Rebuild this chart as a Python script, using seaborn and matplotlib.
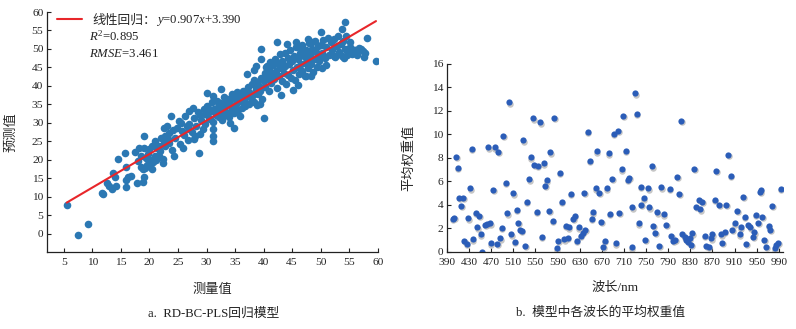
import numpy as np
import pandas as pd
import matplotlib
matplotlib.use("Agg")
import matplotlib.pyplot as plt
import matplotlib.transforms as mtransforms
import seaborn as sns

# ---- panel a: measured vs. predicted ----
measured = [
    5.5, 7.5, 9.2, 11.7, 11.8, 12.6, 13.0, 13.4, 14.1, 13.7,
    14.0, 14.5, 15.9, 15.9, 15.9, 16.3, 16.7, 17.9, 18.8, 19.1,
    18.8, 19.2, 19.8, 19.9, 20.4, 19.5, 20.2, 22.3, 22.3,
    15.8, 17.5, 18.2, 18.6, 19.1, 19.1, 19.8, 20.4, 21.0, 21.3,
    21.9, 22.5, 23.3, 22.7, 21.0, 21.6, 22.5, 23.0, 23.8, 24.2,
    23.5, 24.3, 25.9, 25.1, 26.6, 25.7, 26.9, 27.6, 27.8, 28.6,
    26.9, 28.0, 28.9, 29.5, 30.1, 30.4, 29.8, 31.2, 31.2, 31.2,
    30.1, 31.2, 32.6, 32.4, 31.8, 33.0, 33.6, 34.2, 34.5, 34.8,
    34.2, 35.9, 35.3, 36.5, 37.1, 37.7, 37.1, 38.3, 38.9, 39.4,
    40.0, 39.6, 39.6, 40.6, 38.7, 38.3, 42.4, 44.1, 45.6, 46.5,
    47.7, 48.5, 50.1, 43.0, 45.1, 46.1, 47.4, 48.3, 54.3, 53.7,
    58.2, 59.7, 57.6, 55.1, 56.8, 56.0, 50.9, 50.3, 52.3, 54.1,
    54.7,
    30.0, 30.3, 30.6, 30.8, 31.0, 31.2, 31.4, 31.6, 31.9, 32.0,
    32.2, 32.4, 32.6, 32.8, 33.0, 33.1, 33.3, 33.5, 33.7, 33.9,
    34.0, 34.2, 34.4, 34.6, 34.8, 35.0, 35.2, 35.4, 35.6, 35.8,
    36.0, 36.2, 36.4, 36.6, 36.8, 37.0, 37.2, 37.4, 37.6, 37.8,
    38.0, 38.2, 38.4, 38.6, 38.8, 39.0, 39.2, 39.4, 39.6, 39.8,
    40.0, 40.2, 40.3, 40.5, 40.7, 40.9, 41.0, 41.2, 41.3, 41.5,
    41.7, 41.9, 42.0, 42.2, 42.3, 42.5, 42.7, 42.8, 43.0, 43.2,
    43.3, 43.5, 43.7, 43.8, 44.0, 44.2, 44.3, 44.5, 44.7, 44.8,
    45.0, 45.2, 45.3, 45.5, 45.7, 45.8, 46.0, 46.2, 46.3, 46.5,
    46.7, 46.8, 47.0, 47.2, 47.3, 47.5, 47.7, 47.8, 48.0, 48.2,
    48.3, 48.5, 48.7, 48.8, 49.0, 49.2, 49.3, 49.5, 49.7, 49.8,
    50.0, 50.3, 50.5, 50.8, 51.0, 51.3, 51.5, 51.8, 52.0, 52.3,
    52.5, 52.8, 53.0, 53.3, 53.5, 53.8, 54.0, 54.3, 54.5, 54.8,
    55.2, 55.5, 55.8, 56.3, 56.5, 57.0, 57.4, 57.8,
    22.0, 22.8, 23.4, 23.9, 24.5, 24.8, 25.3, 25.6, 26.0, 26.3,
    26.7, 27.0, 27.4, 27.8, 28.1, 28.5, 28.8, 29.1, 29.4, 29.7,
    18.0, 18.6, 19.4, 20.0, 20.6, 21.2, 21.6,
]
predicted = [
    7.8, -0.5, 2.5, 11.1, 10.7, 13.7, 12.8, 12.0, 12.8, 16.5,
    15.4, 20.1, 17.9, 14.6, 12.5, 15.3, 15.7, 13.8, 14.0, 15.2,
    17.4, 17.7, 18.3, 19.2, 17.6, 18.6, 19.9, 19.0, 20.1,
    21.9, 22.1, 23.1, 21.0, 23.3, 26.4, 21.5, 23.7, 25.1, 23.3,
    22.4, 24.6, 25.5, 26.4, 21.0, 21.0, 28.7, 29.1, 31.8, 28.0,
    24.6, 21.0, 23.3, 30.5, 29.1, 27.8, 33.2, 34.1, 25.5, 21.9,
    28.2, 26.4, 32.2, 33.6, 34.5, 31.4, 29.6, 28.2, 26.4, 25.1,
    38.1, 37.2, 39.2, 35.4, 32.7, 35.4, 32.7, 36.3, 34.1, 28.7,
    30.0, 31.8, 38.1, 36.3, 39.0, 37.2, 43.3, 41.7, 34.7, 35.0,
    31.2, 50.0, 47.4, 45.3, 45.3, 44.4, 52.0, 51.4, 52.0, 50.2,
    52.7, 52.0, 54.7, 37.6, 39.0, 40.3, 42.6, 42.6, 57.2, 55.3,
    52.9, 46.6, 47.8, 51.8, 50.2, 49.8, 45.7, 44.8, 48.0, 47.5,
    48.4,
    32.5, 34.0, 31.0, 33.2, 35.5, 30.2, 33.8, 32.0, 36.0, 34.4,
    31.5, 33.0, 35.0, 30.8, 37.0, 33.6, 32.2, 34.8, 36.4, 31.6,
    35.6, 33.0, 37.8, 34.2, 32.6, 36.8, 35.0, 38.4, 33.4, 37.2,
    35.8, 34.0, 38.6, 36.2, 34.6, 37.6, 39.8, 35.2, 38.2, 36.6,
    40.4, 37.4, 35.6, 39.2, 41.0, 37.8, 40.0, 38.6, 42.0, 36.4,
    41.4, 43.6, 39.6, 45.0, 42.2, 38.6, 44.2, 46.4, 40.8, 43.0,
    45.6, 41.8, 47.2, 44.0, 39.4, 46.0, 42.6, 48.6, 44.8, 41.2,
    46.8, 43.6, 49.0, 45.4, 40.6, 47.6, 43.0, 45.8, 49.6, 42.2,
    46.6, 44.2, 48.2, 41.6, 50.4, 45.0, 47.4, 43.2, 49.0, 45.8,
    51.0, 44.0, 48.0, 46.2, 42.8, 49.6, 47.0, 44.8, 51.6, 48.6,
    46.0, 50.0, 43.8, 47.4, 52.2, 49.2, 45.2, 50.8, 48.0, 46.6,
    51.2, 49.0, 52.4, 47.6, 50.6, 53.0, 48.4, 51.8, 49.6, 52.6,
    47.8, 50.8, 53.4, 49.2, 51.4, 48.2, 52.2, 50.0, 53.6, 49.0,
    50.6, 48.6, 49.6, 48.4, 49.6, 50.0, 49.4, 48.8,
    26.0, 23.8, 27.2, 22.6, 25.8, 28.6, 24.2, 30.0, 26.6, 31.8,
    25.4, 29.6, 27.6, 31.2, 29.0, 33.0, 27.0, 30.8, 28.2, 32.4,
    19.6, 18.0, 20.4, 22.8, 19.4, 20.0, 23.8,
]
fit_slope, fit_intercept = 0.907, 3.390
fit_r2, fit_rmse = 0.895, 3.461
ticks_a = list(range(5, 61, 5))
yticks_a = list(range(0, 61, 5))

# ---- panel b: mean weight per wavelength ----
wavelength = [
    406.8, 409.9, 435.0, 432.0, 464.6, 476.6, 482.6, 492.3, 496.5, 474.0,
    503.0, 528.3, 539.2, 541.6, 548.2, 554.2, 545.8, 559.0, 565.6, 568.0,
    570.5, 577.1, 584.3, 594.5, 644.4, 648.0, 658.9, 661.3, 678.7, 682.3,
    689.0, 692.0, 699.8, 708.8, 705.8, 713.0, 717.2, 719.6, 730.5, 732.9,
    740.7, 753.9, 761.1, 777.9, 793.0, 806.8, 814.0, 837.5, 877.2, 898.9,
    903.1, 957.2, 993.3,
    400.8, 403.2, 412.9, 420.1, 416.5, 429.1, 421.9, 426.1, 436.9, 442.3,
    449.0, 445.4, 451.4, 453.2, 459.2, 463.4, 468.2, 469.4, 481.4, 486.2,
    489.2, 498.9, 506.1, 510.3, 512.7, 516.3, 519.3, 522.3, 525.9, 532.0,
    534.4, 552.4, 561.4, 574.7, 581.3, 588.5, 591.5, 598.1, 602.3, 604.7,
    608.3, 610.7, 614.4, 618.6, 621.0, 624.6, 628.8, 632.4, 635.4, 638.4,
    640.2, 651.7, 653.5, 665.5, 669.1, 672.7, 675.7, 684.7, 695.6, 701.6,
    724.4, 725.6, 736.5, 740.9, 745.7, 748.7, 756.0, 762.6, 766.8, 769.8,
    774.0, 782.2, 787.0, 796.0, 799.0, 802.6, 809.8, 815.9, 820.1, 823.1,
    826.2, 829.1, 833.9, 832.0, 841.1, 845.9, 848.4, 851.9, 856.2, 859.2,
    863.4, 868.2, 870.0, 874.2, 882.0, 886.2, 888.0, 892.2, 895.2, 906.1,
    910.3, 914.5, 919.3, 921.1, 925.3, 928.3, 931.3, 934.4, 938.6, 943.4,
    945.2, 948.2, 952.4, 956.6, 960.2, 963.2, 967.4, 971.6, 974.6, 978.2,
    982.5, 985.5, 988.5,
]
mean_weight = [
    8.10, 7.16, 8.78, 5.40, 8.89, 8.89, 8.52, 9.89, 5.88, 5.26,
    12.73, 9.49, 6.16, 8.04, 7.41, 7.30, 11.36, 11.02, 7.53, 5.60,
    6.08, 8.47, 11.42, 6.73, 10.23, 7.76, 5.40, 8.55, 5.40, 8.38,
    6.19, 10.03, 10.28, 11.56, 7.02, 8.58, 6.11, 6.31, 13.49, 11.73,
    5.54, 5.40, 7.27, 5.48, 5.34, 6.39, 11.14, 7.05, 6.88, 8.24,
    6.48, 5.26, 5.34,
    2.78, 2.90, 4.60, 4.57, 3.92, 2.84, 0.94, 0.65, 1.05, 3.32,
    3.07, 2.07, 1.48, 0.00, 2.30, 2.39, 2.41, 0.71, 0.65, 1.14,
    2.05, 3.27, 1.48, 4.97, 0.85, 3.55, 2.47, 1.85, 1.76, 0.48,
    4.26, 3.41, 1.28, 3.49, 2.61, 0.28, 0.91, 4.26, 1.05, 2.22,
    1.19, 2.07, 4.91, 2.78, 3.04, 0.91, 2.07, 1.36, 1.62, 5.03,
    1.85, 2.78, 3.35, 5.03, 2.56, 0.43, 0.94, 3.21, 0.71, 3.32,
    0.37, 3.78, 2.41, 3.98, 4.55, 0.99, 3.78, 2.22, 1.62, 3.35,
    0.48, 3.18, 2.27, 1.34, 0.94, 0.99, 4.91, 1.51, 1.28, 0.99,
    0.85, 1.14, 1.56, 0.57, 3.84, 4.40, 3.61, 4.26, 1.34, 0.48,
    0.43, 1.14, 1.48, 4.40, 3.98, 1.48, 0.77, 1.70, 3.98, 1.85,
    2.41, 3.47, 1.48, 2.07, 4.69, 2.98, 0.65, 2.27, 2.07, 1.28,
    1.65, 3.13, 2.47, 5.11, 2.98, 0.99, 0.43, 2.19, 1.85, 3.92,
    0.28, 0.57, 0.77,
]
ticks_b = list(range(390, 991, 40))
yticks_b = list(range(0, 17, 2))

df_a = pd.DataFrame({"measured": measured, "predicted": predicted})
df_b = pd.DataFrame({"wavelength": wavelength, "weight": mean_weight})

sns.set_style("ticks")
plt.rcParams["font.family"] = ["Liberation Serif", "Noto Sans CJK SC"]
plt.rcParams["mathtext.fontset"] = "custom"
plt.rcParams["mathtext.rm"] = "Liberation Serif"
plt.rcParams["mathtext.it"] = "Liberation Serif:italic"
plt.rcParams["axes.unicode_minus"] = False

cjk = ["Noto Sans CJK SC", "DejaVu Sans"]
mixed = ["Liberation Serif", "Noto Sans CJK SC"]
tick_fs = 8.2
text_fs = 9.2
axis_color = "#222222"

fig = plt.figure(figsize=(7.96, 3.29), dpi=100)
ax1 = fig.add_axes([0.0587, 0.234, 0.4158, 0.7295])
ax2 = fig.add_axes([0.5612, 0.235, 0.4221, 0.5705])

# panel a
sns.scatterplot(data=df_a, x="measured", y="predicted", ax=ax1,
                color="#2b78b3", s=30, linewidth=0, alpha=1.0)
x_line = np.array([min(measured), max(measured)])
ax1.plot(x_line, fit_slope * x_line + fit_intercept, color="#e8262a",
         lw=1.5, label="线性回归：")
ax1.set_xlim(2, 60)
ax1.set_ylim(-5, 60)
ax1.set_xticks(ticks_a)
ax1.set_yticks(yticks_a)
leg = ax1.legend(loc="center left", bbox_to_anchor=(0.03, 0.965), frameon=False,
                 handlelength=2.0, handletextpad=0.8, borderpad=0, borderaxespad=0,
                 prop={"family": cjk, "size": text_fs})
# regression equation continues right after the legend label (drawn after the legend)
ax1.annotate(f"$y$={fit_slope:.3f}$x$+{fit_intercept:.3f}", xy=(1, 0.5),
             xycoords=leg.get_texts()[0], va="center", ha="left",
             fontsize=text_fs, color="#222222", zorder=10)
ax1.text(0.127, 0.900, f"$R^2$={fit_r2:.3f}", transform=ax1.transAxes,
         fontsize=text_fs, va="center", ha="left", color="#222222")
ax1.text(0.127, 0.826, f"$RMSE$={fit_rmse:.3f}", transform=ax1.transAxes,
         fontsize=text_fs, va="center", ha="left", color="#222222")
ax1.set_xlabel("测量值", family=cjk, fontsize=9.5, labelpad=11)
ax1.set_ylabel("预测值", family=cjk, fontsize=9.5, labelpad=10)

# panel b: soft grey shadow under each dot
shadow = mtransforms.ScaledTranslation(0.4 / 72, -1.0 / 72, fig.dpi_scale_trans)
sns.scatterplot(data=df_b, x="wavelength", y="weight", ax=ax2,
                color="#b8b8b8", s=22, linewidth=0, alpha=0.8)
ax2.collections[-1].set_offset_transform(ax2.transData + shadow)
sns.scatterplot(data=df_b, x="wavelength", y="weight", ax=ax2,
                color="#2b5db8", s=20, linewidth=0)
ax2.set_xlim(390, 997)
ax2.set_ylim(0, 16)
ax2.set_xticks(ticks_b)
ax2.set_yticks(yticks_b)
ax2.set_xlabel("波长/nm", family=mixed, fontsize=9.5, labelpad=11)
ax2.set_ylabel("平均权重值", family=cjk, fontsize=9.5, labelpad=12)

for ax in (ax1, ax2):
    sns.despine(ax=ax)
    for side in ("left", "bottom"):
        ax.spines[side].set_color(axis_color)
        ax.spines[side].set_linewidth(0.9)
    ax.tick_params(direction="in", length=3, width=0.8, colors=axis_color,
                   labelsize=tick_fs)
    ax.tick_params(axis="x", pad=4.5)
    ax.tick_params(axis="y", pad=2.5)
    for lab in ax.get_xticklabels() + ax.get_yticklabels():
        lab.set_family("Liberation Serif")

fig.text(0.268, 0.048, "a.  RD-BC-PLS回归模型", family=mixed, fontsize=text_fs,
         ha="center", va="center", color="#222222")
fig.text(0.754, 0.048, "b.  模型中各波长的平均权重值", family=mixed, fontsize=text_fs,
         ha="center", va="center", color="#222222")

fig.savefig("out.png", dpi=100)
